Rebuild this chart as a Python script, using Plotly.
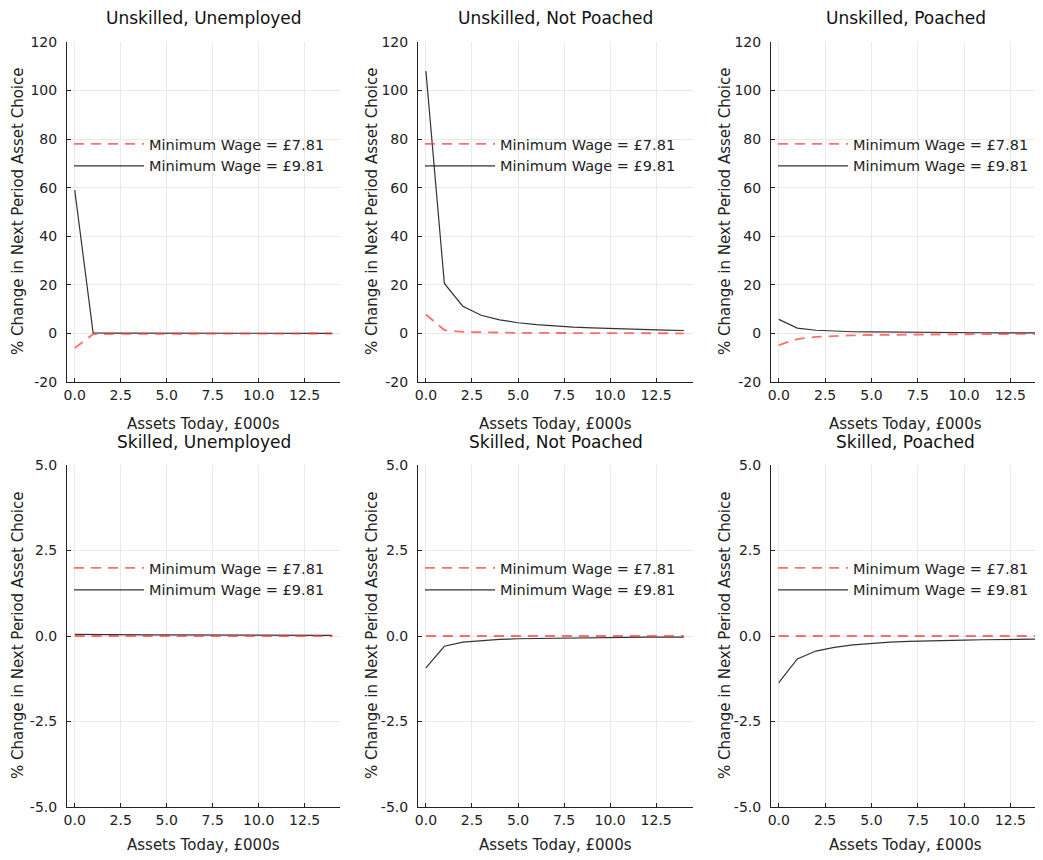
import plotly.graph_objects as go

assets = list(range(15))

titles = ["Unskilled, Unemployed", "Unskilled, Not Poached", "Unskilled, Poached",
          "Skilled, Unemployed", "Skilled, Not Poached", "Skilled, Poached"]

series_names = ["Minimum Wage = £7.81", "Minimum Wage = £9.81"]

# Minimum wage £7.81 (red dashed)
uu_low = [-6.0, -0.3, -0.2, -0.15, -0.1, -0.1, -0.08, -0.07, -0.06, -0.05, -0.05, -0.04, -0.04, -0.03, -0.03]
unp_low = [7.8, 1.4, 0.6, 0.4, 0.3, 0.25, 0.2, 0.15, 0.12, 0.1, 0.08, 0.07, 0.06, 0.05, 0.05]
up_low = [-4.8, -2.3, -1.4, -1.0, -0.8, -0.65, -0.55, -0.45, -0.4, -0.35, -0.3, -0.27, -0.24, -0.22, -0.2]
su_low = [0.0] * 15
snp_low = [0.0] * 15
sp_low = [0.0] * 15

# Minimum wage £9.81 (black solid)
uu_high = [59.0, 0.2, 0.15, 0.12, 0.1, 0.1, 0.08, 0.07, 0.06, 0.06, 0.05, 0.05, 0.05, 0.04, 0.04]
unp_high = [108.0, 20.6, 11.2, 7.5, 5.6, 4.4, 3.6, 3.0, 2.6, 2.3, 2.0, 1.8, 1.6, 1.4, 1.2]
up_high = [5.8, 2.2, 1.3, 0.9, 0.7, 0.6, 0.5, 0.42, 0.37, 0.33, 0.3, 0.27, 0.25, 0.23, 0.21]
su_high = [0.05, 0.04, 0.04, 0.03, 0.03, 0.03, 0.03, 0.02, 0.02, 0.02, 0.02, 0.02, 0.02, 0.02, 0.02]
snp_high = [-0.93, -0.30, -0.18, -0.13, -0.10, -0.08, -0.07, -0.06, -0.05, -0.05, -0.04, -0.04, -0.03, -0.03, -0.03]
sp_high = [-1.36, -0.67, -0.44, -0.33, -0.26, -0.21, -0.18, -0.16, -0.14, -0.13, -0.12, -0.11, -0.10, -0.09, -0.09]

low_series = [uu_low, unp_low, up_low, su_low, snp_low, sp_low]
high_series = [uu_high, unp_high, up_high, su_high, snp_high, sp_high]

x_tickvals = [0, 2.5, 5, 7.5, 10, 12.5]
x_ticktext = ["0.0", "2.5", "5.0", "7.5", "10.0", "12.5"]
top_tickvals = [-20, 0, 20, 40, 60, 80, 100, 120]
top_ticktext = ["-20", "0", "20", "40", "60", "80", "100", "120"]
bot_tickvals = [-5, -2.5, 0, 2.5, 5]
bot_ticktext = ["-5.0", "-2.5", "0.0", "2.5", "5.0"]

# page offset (body margin) compensation
OFF = 8
W, H = 1043 - OFF, 860 - OFF
FONT = "DejaVu Sans"


def px_x(p):
    return (p - OFF) / W


def px_y(p):
    return 1 - (p - OFF) / H


# panel frames in page pixels
x_px = [(67, 340), (418, 693), (771, 1043)]
y_px = [(42, 382), (465, 807)]
x_ranges = [[-0.42, 14.42], [-0.43, 14.5], [-0.42, 14.26]]

fig = go.Figure()
annotations = []
layout = {}

for i in range(6):
    r, c = divmod(i, 3)
    n = i + 1
    xa = "x" if n == 1 else f"x{n}"
    ya = "y" if n == 1 else f"y{n}"
    lg = "legend" if n == 1 else f"legend{n}"
    fig.add_trace(go.Scatter(x=assets, y=high_series[i], mode="lines", name=series_names[1],
                             line=dict(color="rgba(0,0,0,0.8)", width=1.2),
                             xaxis=xa, yaxis=ya, legend=lg, legendrank=2))
    fig.add_trace(go.Scatter(x=assets, y=low_series[i], mode="lines", name=series_names[0],
                             line=dict(color="rgba(255,50,50,0.7)", width=1.8, dash="10px,7px"),
                             xaxis=xa, yaxis=ya, legend=lg, legendrank=1))
    x0, x1 = x_px[c]
    y0, y1 = y_px[r]
    xkey = "xaxis" if n == 1 else f"xaxis{n}"
    ykey = "yaxis" if n == 1 else f"yaxis{n}"
    layout[xkey] = dict(domain=[px_x(x0), min(px_x(x1), 1.0)], anchor=ya, range=x_ranges[c],
                        automargin=False,
                        tickvals=x_tickvals, ticktext=x_ticktext, showgrid=True,
                        gridcolor="#e9e9e9", gridwidth=1, zeroline=False, showline=True,
                        linecolor="#222", linewidth=1, ticks="inside", ticklen=4,
                        tickcolor="#222", tickfont=dict(size=14, color="#222", family=FONT))
    layout[ykey] = dict(domain=[px_y(y1), px_y(y0)], anchor=xa,
                        automargin=False,
                        range=[-20, 120] if r == 0 else [-5, 5],
                        tickvals=top_tickvals if r == 0 else bot_tickvals,
                        ticktext=top_ticktext if r == 0 else bot_ticktext,
                        showgrid=True, gridcolor="#e9e9e9", gridwidth=1, zeroline=False,
                        showline=True, linecolor="#222", linewidth=1, ticks="inside",
                        ticklen=4, tickcolor="#222", ticklabelstandoff=6,
                        tickfont=dict(size=14, color="#222", family=FONT))
    leg_y = 128 if r == 0 else 552
    layout[lg] = dict(x=px_x(x0 + 2), y=px_y(leg_y), xanchor="left", yanchor="top",
                      bgcolor="rgba(255,255,255,0)", borderwidth=0,
                      font=dict(size=14.5, color="#222", family=FONT),
                      itemwidth=70, traceorder="normal")
    cxp = (x0 + x1) / 2
    if c == 2:
        cxp = (x0 + 1040) / 2
    title_y = 18 if r == 0 else 442
    annotations.append(dict(text=titles[i], x=px_x(cxp), y=px_y(title_y), xref="paper", yref="paper",
                            showarrow=False, xanchor="center", yanchor="middle",
                            font=dict(size=17, color="#111", family=FONT)))
    xlabel_y = 424 if r == 0 else 845
    annotations.append(dict(text="Assets Today, £000s", x=px_x(cxp), y=px_y(xlabel_y),
                            xref="paper", yref="paper", showarrow=False,
                            xanchor="center", yanchor="middle",
                            font=dict(size=15, color="#222", family=FONT)))
    ylabel_x = [18, 372, 725][c]
    annotations.append(dict(text="% Change in Next Period Asset Choice", x=px_x(ylabel_x),
                            y=px_y((y0 + y1) / 2), xref="paper", yref="paper",
                            showarrow=False, textangle=-90, xanchor="center", yanchor="middle",
                            font=dict(size=15, color="#222", family=FONT)))

fig.update_layout(**layout)
fig.update_layout(width=W, height=H, margin=dict(l=0, r=0, t=0, b=0, autoexpand=False),
                  plot_bgcolor="white", paper_bgcolor="white",
                  annotations=annotations, showlegend=True,
                  font=dict(family=FONT))

fig.write_html("out.html")
